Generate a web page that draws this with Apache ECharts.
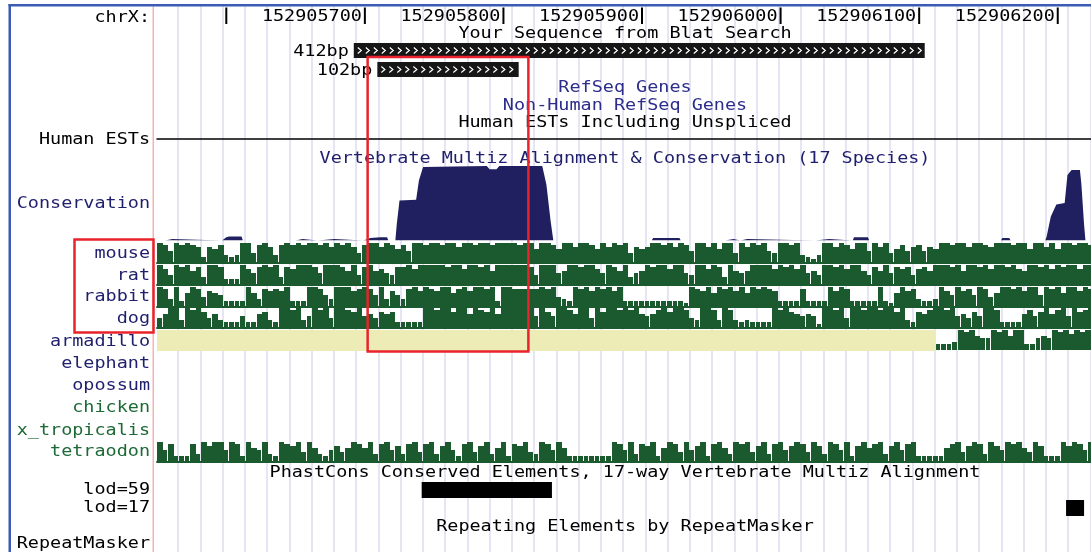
<!DOCTYPE html>
<html>
<head>
<meta charset="utf-8">
<script src="https://cdn.jsdelivr.net/npm/echarts@6/dist/echarts.min.js"></script>
<style>
html, body { margin: 0; padding: 0; background: #fff; }
#box { width: 1091px; height: 552px; }
</style>
</head>
<body>
<div id="box"></div>
<script>
// window shown in the browser (chrX, bp)
var BP0 = 152905550, BP1 = 152906224;
var BIN = 4; // bp per value in the species tracks

var rulerTicks = [152905600, 152905700, 152905800, 152905900, 152906000, 152906100, 152906200];

var blatName = ['412bp', '102bp'];
var blatStart = [152905692, 152905709];
var blatEnd = [152906104, 152905811];

var consPos = [152905550, 152905556, 152905557, 152905561, 152905562,
    152905597, 152905598, 152905600, 152905602, 152905611, 152905612,
    152905650, 152905651, 152905655, 152905656,
    152905666, 152905667, 152905678, 152905679,
    152905699, 152905700, 152905704, 152905711, 152905716, 152905717,
    152905722, 152905723, 152905725, 152905737, 152905739, 152905742, 152905788, 152905790, 152905795, 152905797, 152905828, 152905831, 152905834, 152905836,
    152905907, 152905908, 152905927, 152905928,
    152905960, 152905961, 152905966, 152905967,
    152905971, 152905972, 152905976, 152905977,
    152906025, 152906026, 152906035, 152906036,
    152906052, 152906053, 152906063, 152906064,
    152906159, 152906160, 152906165, 152906166,
    152906191, 152906192, 152906195, 152906199, 152906205, 152906207, 152906210, 152906216, 152906217, 152906219, 152906220, 152906224];
var consVal = [0, 0, 0.02, 0.02, 0,
    0, 0.02, 0.04, 0.05, 0.05, 0,
    0, 0.02, 0.02, 0,
    0, 0.02, 0.02, 0,
    0, 0.02, 0.03, 0.04, 0.04, 0,
    0, 0.2, 0.5, 0.51, 0.75, 0.92, 0.93, 0.89, 0.89, 0.93, 0.93, 0.7, 0.25, 0,
    0, 0.03, 0.03, 0,
    0, 0.02, 0.02, 0,
    0, 0.02, 0.02, 0,
    0, 0.02, 0.02, 0,
    0, 0.04, 0.04, 0,
    0, 0.03, 0.03, 0,
    0, 0.05, 0.3, 0.45, 0.47, 0.82, 0.88, 0.88, 0.72, 0.2, 0, 0];

var mouse = [10,9,6,10,9,10,9,8,3,8, 7,9,4,3,4,10,10,5,9,10, 8,4,9,10,9,10,9,10,10,9, 10,8,10,9,10,8,5,9,10,10,
    8,10,9,7,9,6,10,10,9,10, 10,9,10,10,8,10,10,9,10,10, 9,10,10,10,10,9,10,10,7,10, 10,9,7,10,10,8,10,10,9,7,
    10,8,10,9,10,5,8,7,8,10, 10,9,10,8,10,9,6,10,10,8, 10,7,10,10,5,10,8,10,9,10, 6,5,10,10,9,10,4,3,2,4,
    10,10,8,10,9,7,10,10,6,10, 8,10,5,7,9,6,8,9,6,8, 7,10,10,9,10,10,8,10,10,9, 8,10,10,10,9,10,10,7,10,10,
    8,10,7,10,10,9,10,10,9];
var rat = [10,8,5,10,9,10,7,9,4,10, 10,9,3,3,3,10,8,6,9,10, 9,10,4,9,8,10,10,10,9,6, 10,10,10,9,7,10,5,9,10,7,
    8,6,5,9,9,10,8,10,10,10, 10,10,9,10,10,8,10,10,9,10, 7,10,10,10,10,10,10,9,5,10, 10,10,6,7,10,10,9,10,10,8,
    6,10,9,7,10,4,6,7,10,9, 10,10,8,10,10,6,5,10,10,8, 10,9,4,10,7,6,7,10,10,10, 10,8,10,9,10,8,10,6,7,5,
    10,10,9,10,8,10,10,7,5,9, 7,10,6,9,8,9,5,8,9,7, 10,10,10,9,10,7,10,10,9,10, 8,10,10,9,10,8,7,10,10,9,
    10,8,10,9,10,10,8,10,10];
var rabbit = [10,9,4,10,3,7,10,9,5,8, 7,6,3,3,3,3,10,7,4,9, 8,9,8,10,3,3,3,10,10,9, 6,4,10,10,10,8,9,10,9,6,
    10,4,8,6,4,9,10,8,10,9, 8,10,10,7,9,10,8,10,10,9, 10,3,10,10,9,9,9,9,9,10, 9,10,5,4,3,10,9,10,8,10,
    9,10,8,10,3,3,3,3,3,3, 3,3,3,3,3,2,10,9,8,10, 7,10,9,10,8,10,7,10,9,10, 9,8,3,3,3,3,9,3,3,3,
    3,10,8,10,9,3,3,3,3,3, 10,3,2,7,10,8,9,4,3,3, 4,10,8,6,10,8,9,6,10,9, 5,7,10,10,9,10,8,10,10,6,
    10,9,10,7,10,10,8,10,9];
var dog = [5,7,10,10,4,10,9,10,8,5, 7,4,3,3,3,6,3,3,7,8, 4,3,10,10,9,10,4,6,10,9, 10,5,10,10,9,8,10,6,7,5,
    8,7,8,3,3,3,3,3,10,10, 9,10,10,8,10,10,7,10,9,8, 10,7,10,10,10,10,10,10,6,10, 8,6,10,10,9,7,10,10,5,10,
    8,10,10,9,10,9,10,7,6,7, 9,10,8,10,10,9,5,4,10,10, 9,4,10,9,4,3,4,3,3,3, 3,10,9,10,8,7,6,7,6,2,
    10,10,9,10,5,10,10,9,10,10, 9,10,10,8,10,4,3,8,7,9, 10,10,9,10,6,7,5,8,6,10, 10,9,3,3,3,3,7,9,6,8,
    10,7,9,10,6,10,8,9,10];
var armStart = 152906112;
var armadillo = [3,3,3,4,10,9,10,7,6, 6,10,9,10,7,10,10,3,3,6, 7,6,10,9,10,8,10,9,10];
var tetraodon = [10,6,9,3,3,3,9,4,10,8, 10,10,6,10,9,3,10,7,6,10, 4,3,10,9,8,10,5,10,7,4, 3,6,8,5,7,10,9,7,10,4,
    9,10,6,8,4,9,10,5,9,10, 4,8,10,6,3,9,10,5,8,10, 4,7,10,3,9,8,10,5,4,10, 9,6,10,7,3,3,3,3,3,3,
    3,3,10,9,6,10,4,9,8,10, 3,7,10,9,5,10,6,8,10,3, 9,10,7,4,10,9,10,5,8,10, 4,9,10,6,8,10,9,5,10,8,
    4,10,9,6,10,3,8,10,7,9, 10,4,8,10,6,9,10,3,3,3, 3,3,7,9,10,5,8,10,9,4, 10,8,6,10,9,10,7,5,10,8,
    3,3,3,10,8,10,9,6,10];

var lodName = ['lod=59', 'lod=17'];
var lodStart = [152905741, 152906206];
var lodEnd = [152905835, 152906219];

var highlight = [152905702, 152905818];

var GREEN = '#1a5a2e', NAVY = '#202060', YELLOW = '#eeecb6';
var FONT = 'DejaVu Sans Mono', SX = 1.23, DY = 1.5;

function bins(vals, start) {
    return vals.map(function (v, i) { return [start + i * BIN, v]; });
}

function label(s, x, y, color, align) {
    return {
        type: 'text', x: x, y: y + DY, scaleX: SX, z: 100, silent: true,
        style: { text: s, fontFamily: FONT, fontSize: 15, fill: color, align: align, verticalAlign: 'middle' }
    };
}

function drawRuler(params, api) {
    var top = api.coord([api.value(0), 1]);
    var bot = api.coord([api.value(0), 0]);
    var kids = [{ type: 'rect', shape: { x: top[0] - 1, y: top[1], width: 2, height: bot[1] - top[1] }, style: { fill: '#000' } }];
    if (top[0] - 110 > 157) {
        kids.push({
            type: 'text', x: top[0] - 3, y: (top[1] + bot[1]) / 2 + DY, scaleX: SX,
            style: { text: String(api.value(0)), fontFamily: FONT, fontSize: 15, fill: '#000', align: 'right', verticalAlign: 'middle' }
        });
    }
    return { type: 'group', children: kids };
}

function drawBlat(params, api) {
    var a = api.coord([api.value(0), api.value(2)]);
    var b = api.coord([api.value(1), api.value(2)]);
    var h = 15, x0 = a[0], w = b[0] - a[0];
    var kids = [{ type: 'rect', shape: { x: x0, y: a[1] - h / 2, width: w, height: h }, style: { fill: '#161616' } }];
    for (var cx = x0 + 6; cx < x0 + w - 3; cx += 8) {
        kids.push({
            type: 'polyline', shape: { points: [[cx - 2, a[1] - 3], [cx + 1.5, a[1]], [cx - 2, a[1] + 3]] },
            style: { stroke: '#fff', lineWidth: 1.2, fill: null }
        });
    }
    kids.push({
        type: 'text', x: x0 - 5, y: a[1] + DY, scaleX: SX,
        style: { text: blatName[params.dataIndex], fontFamily: FONT, fontSize: 15, fill: '#000', align: 'right', verticalAlign: 'middle' }
    });
    return { type: 'group', children: kids };
}

function drawLod(params, api) {
    var a = api.coord([api.value(0), api.value(2)]);
    var b = api.coord([api.value(1), api.value(2)]);
    return { type: 'rect', shape: { x: a[0], y: a[1] - 8, width: b[0] - a[0], height: 16 }, style: { fill: '#000' } };
}

function drawGap(params, api) {
    var a = api.coord([api.value(0), 10]);
    var b = api.coord([api.value(1), 0]);
    return { type: 'rect', shape: { x: a[0], y: a[1], width: b[0] - a[0], height: b[1] - a[1] + 1 }, style: { fill: YELLOW } };
}

// one bar per bin, snapped to whole pixels so neighbours join without seams;
// the low bins keep a hairline of white on their right, like the per-base notches
function drawBin(params, api) {
    var v = api.value(1);
    var a = api.coord([api.value(0), v]);
    var b = api.coord([api.value(0) + BIN, 0]);
    var x0 = Math.round(a[0]), x1 = Math.round(b[0]);
    var w = x1 - x0 - (v <= 6 ? 1 : 0);
    return { type: 'rect', shape: { x: x0, y: Math.round(a[1]), width: w, height: b[1] - Math.round(a[1]) }, style: { fill: GREEN } };
}

// grids: 0 guide lines, 1 ruler, 2 blat, 3 ESTs, 4 conservation, 5-10 species, 11 phastCons
var grids = [
    { left: 178, right: 0.75, top: 6, bottom: 0 },
    { left: 157, right: 0, top: 7.5, height: 16.5 },
    { left: 157, right: 0, top: 41, height: 38 },
    { left: 157, right: 0, top: 130, height: 8.3 },
    { left: 157, right: 0, top: 160.5, height: 80 },
    { left: 157, right: 0, top: 243, height: 20 },
    { left: 157, right: 0, top: 265, height: 20 },
    { left: 157, right: 0, top: 287, height: 20 },
    { left: 157, right: 0, top: 308, height: 20 },
    { left: 157, right: 0, top: 330, height: 20 },
    { left: 157, right: 0, top: 442, height: 20 },
    { left: 157, right: 0, top: 481, height: 36 }
];

var xAxes = [], yAxes = [];
grids.forEach(function (g, i) {
    if (i === 0) {
        xAxes.push({
            type: 'value', gridIndex: 0, min: 0, max: 41, interval: 1,
            axisLine: { show: false }, axisTick: { show: false }, axisLabel: { show: false },
            splitLine: { show: true, lineStyle: { color: '#dcdcf0', width: 1.5 } }
        });
        yAxes.push({ type: 'value', gridIndex: 0, show: false, min: 0, max: 1 });
        return;
    }
    var lineColor = null;
    if (i === 3) lineColor = '#000';
    if (i >= 5 && i <= 10 && i !== 9) lineColor = GREEN;
    xAxes.push({
        type: 'value', gridIndex: i, min: BP0, max: BP1,
        axisLine: { show: !!lineColor, onZero: false, lineStyle: { color: lineColor || '#000', width: i === 3 ? 1.5 : 2 } },
        axisTick: { show: false }, axisLabel: { show: false }, splitLine: { show: false }
    });
    var rows = (i === 2 || i === 11);
    var ymax = (i === 1 || i === 4) ? 1 : 10;
    yAxes.push({ type: 'value', gridIndex: i, show: false, min: 0, max: rows ? 2 : ymax, inverse: rows });
});

function speciesSeries(idx, vals, start) {
    return {
        type: 'custom', xAxisIndex: idx, yAxisIndex: idx, clip: true,
        renderItem: drawBin, data: bins(vals, start)
    };
}

var series = [
    { type: 'custom', xAxisIndex: 1, yAxisIndex: 1, renderItem: drawRuler, data: rulerTicks.map(function (t) { return [t, 0]; }) },
    {
        type: 'custom', xAxisIndex: 2, yAxisIndex: 2, renderItem: drawBlat, encode: { x: [0, 1], y: 2 },
        data: blatStart.map(function (s, i) { return [s, blatEnd[i], i + 0.5]; })
    },
    {
        type: 'line', xAxisIndex: 4, yAxisIndex: 4, symbol: 'none',
        lineStyle: { width: 0 }, areaStyle: { color: NAVY, opacity: 1 },
        data: consPos.map(function (p, i) { return [p, consVal[i]]; })
    },
    speciesSeries(5, mouse, BP0),
    speciesSeries(6, rat, BP0),
    speciesSeries(7, rabbit, BP0),
    speciesSeries(8, dog, BP0),
    {
        type: 'custom', xAxisIndex: 9, yAxisIndex: 9, renderItem: drawGap, encode: { x: [0, 1] },
        data: [[BP0, armStart]]
    },
    speciesSeries(9, armadillo, armStart),
    speciesSeries(10, tetraodon, BP0),
    {
        type: 'custom', xAxisIndex: 11, yAxisIndex: 11, renderItem: drawLod, encode: { x: [0, 1], y: 2 },
        data: lodStart.map(function (s, i) { return [s, lodEnd[i], i + 0.5]; })
    }
];

var myChart = echarts.init(document.getElementById('box'));
myChart.setOption({
    animation: false,
    backgroundColor: '#fff',
    grid: grids,
    xAxis: xAxes,
    yAxis: yAxes,
    series: series
});

var NAVYTXT = '#1f1f6e', BLUETXT = '#2d2d8c', GREENTXT = '#1d6a36';
var leftLabels = [
    ['chrX:', 16.5, '#000'], ['Human ESTs', 138.3, '#000'], ['Conservation', 203, NAVYTXT],
    ['mouse', 252.3, NAVYTXT], ['rat', 274.2, NAVYTXT], ['rabbit', 296, NAVYTXT], ['dog', 317.8, NAVYTXT],
    ['armadillo', 340.2, NAVYTXT], ['elephant', 362.5, NAVYTXT], ['opossum', 384.5, NAVYTXT],
    ['chicken', 406.8, GREENTXT], ['x_tropicalis', 429.2, GREENTXT], ['tetraodon', 451, GREENTXT],
    ['lod=59', 488.5, '#000'], ['lod=17', 506.8, '#000'], ['RepeatMasker', 542.5, '#000']
];
var titles = [
    ['Your Sequence from Blat Search', 33, '#000'],
    ['RefSeq Genes', 87, BLUETXT],
    ['Non-Human RefSeq Genes', 105, BLUETXT],
    ['Human ESTs Including Unspliced', 122, '#000'],
    ['Vertebrate Multiz Alignment & Conservation (17 Species)', 157.5, NAVYTXT],
    ['PhastCons Conserved Elements, 17-way Vertebrate Multiz Alignment', 472, '#000'],
    ['Repeating Elements by RepeatMasker', 526, '#000']
];

var hx0 = myChart.convertToPixel({ xAxisIndex: 1 }, highlight[0]);
var hx1 = myChart.convertToPixel({ xAxisIndex: 1 }, highlight[1]);

var graphic = [
    { type: 'rect', z: 100, silent: true, shape: { x: 8.5, y: 4, width: 2.5, height: 548 }, style: { fill: '#3b5bb5' } },
    { type: 'rect', z: 100, silent: true, shape: { x: 8.5, y: 4, width: 1083, height: 2.5 }, style: { fill: '#3b5bb5' } },
    { type: 'rect', z: 99, silent: true, shape: { x: 152.5, y: 6.5, width: 1.5, height: 546 }, style: { fill: '#f3b4b4' } }
];
leftLabels.forEach(function (l) { graphic.push(label(l[0], 150, l[1], l[2], 'right')); });
titles.forEach(function (t) { graphic.push(label(t[0], 625, t[1], t[2], 'center')); });
graphic.push({
    type: 'rect', z: 101, silent: true, shape: { x: 74.5, y: 239.5, width: 79, height: 93 },
    style: { fill: null, stroke: '#e8232b', lineWidth: 2.5 }
});
graphic.push({
    type: 'rect', z: 101, silent: true, shape: { x: hx0, y: 57, width: hx1 - hx0, height: 294.5 },
    style: { fill: null, stroke: '#e8232b', lineWidth: 2.5 }
});

myChart.setOption({ graphic: graphic });
</script>
</body>
</html>
